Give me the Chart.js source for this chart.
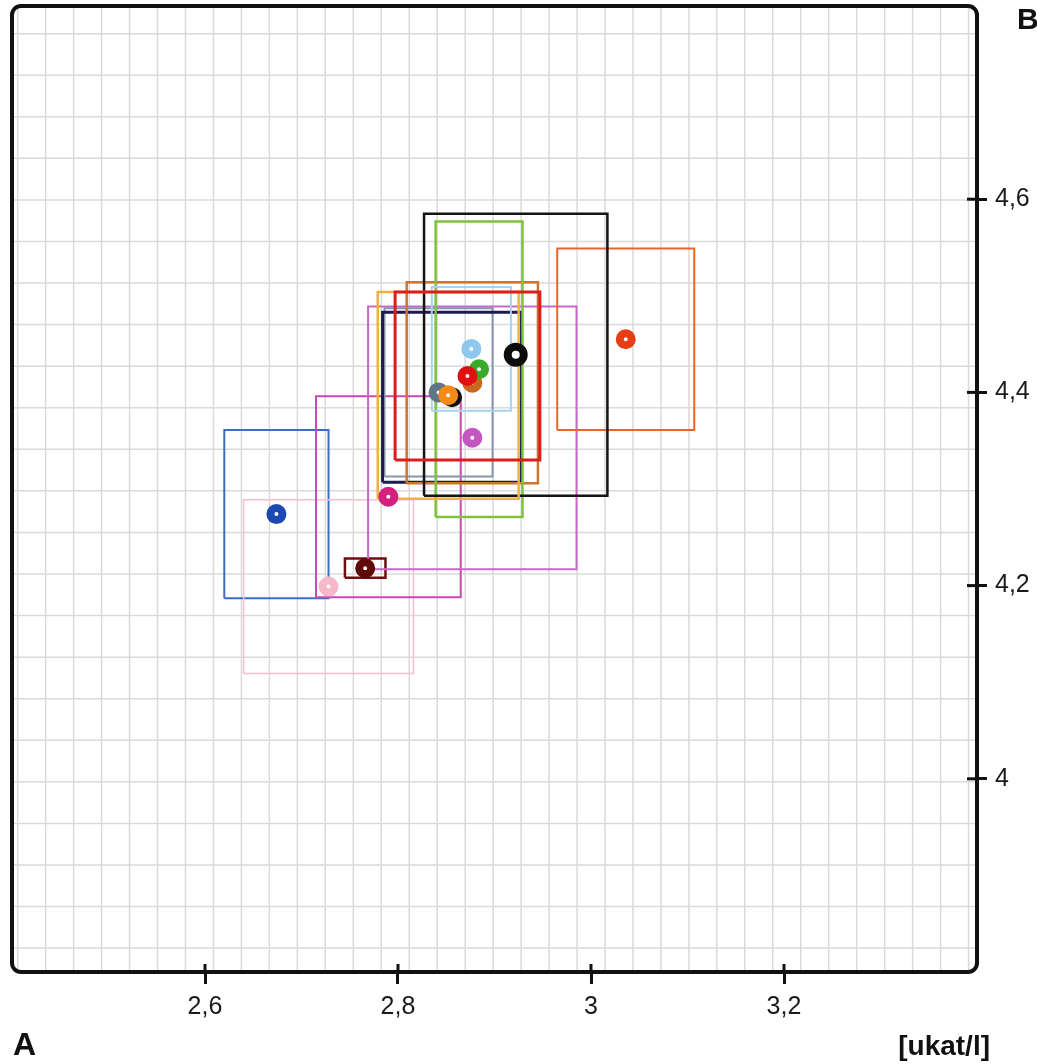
<!DOCTYPE html>
<html>
<head>
<meta charset="utf-8">
<script src="https://cdn.jsdelivr.net/npm/chart.js@4.4.1/dist/chart.umd.min.js"></script>
<style>
  html, body { margin: 0; padding: 0; background: #fff; }
  #wrap { width: 1037px; height: 1064px; position: relative; }
</style>
</head>
<body>
<div id="wrap"><canvas id="chart"></canvas></div>
<script>
// lab results: mean (x in ukat/l, y) and half size of each lab's box
// order = drawing order of the dots, first one on top
const meanX   = [2.872, 2.852, 2.876, 2.922, 2.884, 2.877, 2.856, 2.842, 3.036, 2.877, 2.790, 2.766, 2.728, 2.674];
const meanY   = [4.417, 4.397, 4.445, 4.439, 4.424, 4.410, 4.395, 4.400, 4.455, 4.353, 4.292, 4.218, 4.199, 4.274];
const spreadX = [0.075, 0.073, 0.041, 0.095, 0.045, 0.068, 0.072, 0.056, 0.071, 0.108, 0.075, 0.021, 0.088, 0.054];
const spreadY = [0.087, 0.107, 0.064, 0.146, 0.153, 0.104, 0.088, 0.087, 0.094, 0.136, 0.104, 0.010, 0.090, 0.087];

const xTicks = [2.6, 2.8, 3.0, 3.2];
const xTickLabels = ["2,6", "2,8", "3", "3,2"];
const yTicks = [4.0, 4.2, 4.4, 4.6];
const yTickLabels = ["4", "4,2", "4,4", "4,6"];

/* styles */
const boxColors = ["#dd1c1c", "#f0b23c", "#a6d4f0", "#141414", "#7cc23e", "#d2732c", "#1c1c50",
                   "#8595b2", "#e8662c", "#c868c8", "#c848b4", "#6e0e0e", "#f3c0cf", "#3b6cc6"];
const dotColors = ["#e01010", "#f58a18", "#8ec8ee", "#0c0c0c", "#3aaa2a", "#c8661e", "#101010",
                   "#5e7686", "#e83c14", "#c458c0", "#d6207e", "#5e0808", "#f6b8ca", "#1c48b2"];
const boxWidths = [3, 2.5, 2, 2.5, 2.5, 2.5, 3, 2, 2, 2, 2, 2.5, 1.5, 2];
const dotRadius = [6, 6, 6, 8, 6, 6, 6, 6, 6, 6, 6, 6, 6, 6];

// graph paper behind the chart
const paperX0 = 2.4349, paperDX = 0.02898;
const paperY0 = 4.7714, paperDY = 0.04303;

const datasets = [];

meanX.forEach((mx, i) => {
    datasets.push({
        type: "scatter",
        data: [{ x: mx, y: meanY[i] }],
        pointStyle: "circle",
        pointRadius: dotRadius[i],
        pointBorderWidth: 8,
        pointBackgroundColor: "#fff",
        pointBorderColor: dotColors[i],
        order: 0
    });
});

meanX.forEach((mx, i) => {
    const x0 = mx - spreadX[i], x1 = mx + spreadX[i];
    const y0 = meanY[i] - spreadY[i], y1 = meanY[i] + spreadY[i];
    datasets.push({
        type: "scatter",
        showLine: true,
        fill: false,
        data: [{ x: x0, y: y0 }, { x: x1, y: y0 }, { x: x1, y: y1 }, { x: x0, y: y1 }, { x: x0, y: y0 }],
        borderColor: boxColors[i],
        borderWidth: boxWidths[i],
        pointRadius: 0,
        tension: 0,
        order: 1
    });
});

/* graph paper: drawn from the x / y scales before the data */
const paperPlugin = {
    id: "paper",
    beforeDatasetsDraw(chart) {
        const ctx = chart.ctx;
        const a = chart.chartArea;
        const xs = chart.scales.x, ys = chart.scales.y;
        ctx.save();
        ctx.strokeStyle = "#dadada";
        ctx.lineWidth = 1.5;
        let v = paperX0;
        while (v - paperDX >= xs.min) v -= paperDX;
        for (; v <= xs.max; v += paperDX) {
            const px = xs.getPixelForValue(v);
            ctx.beginPath();
            ctx.moveTo(px, a.top);
            ctx.lineTo(px, a.bottom);
            ctx.stroke();
        }
        v = paperY0;
        while (v + paperDY <= ys.max) v += paperDY;
        for (; v >= ys.min; v -= paperDY) {
            const py = ys.getPixelForValue(v);
            ctx.beginPath();
            ctx.moveTo(a.left, py);
            ctx.lineTo(a.right, py);
            ctx.stroke();
        }
        ctx.restore();
    }
};

/* border, inward tick marks and letters */
const framePlugin = {
    id: "frame",
    afterDraw(chart) {
        const ctx = chart.ctx;
        const a = chart.chartArea;
        ctx.save();
        ctx.strokeStyle = "#111";
        ctx.lineWidth = 4;
        ctx.beginPath();
        ctx.roundRect(a.left, a.top, a.right - a.left, a.bottom - a.top, 9);
        ctx.stroke();

        ctx.lineWidth = 3;
        const xs = chart.scales.x, ys = chart.scales.y;
        xTicks.forEach(v => {
            const px = xs.getPixelForValue(v);
            ctx.beginPath();
            ctx.moveTo(px, a.bottom - 8);
            ctx.lineTo(px, a.bottom);
            ctx.stroke();
        });
        yTicks.forEach(v => {
            const py = ys.getPixelForValue(v);
            ctx.beginPath();
            ctx.moveTo(a.right - 10, py);
            ctx.lineTo(a.right, py);
            ctx.stroke();
        });

        ctx.fillStyle = "#111";
        ctx.textBaseline = "alphabetic";
        ctx.font = "bold 32px 'Liberation Sans', Arial, sans-serif";
        ctx.textAlign = "left";
        ctx.fillText("A", 13, 1055);
        ctx.font = "bold 30px 'Liberation Sans', Arial, sans-serif";
        ctx.fillText("B", 1017, 29);
        ctx.font = "bold 28px 'Liberation Sans Narrow', 'Liberation Sans', Arial, sans-serif";
        ctx.textAlign = "right";
        ctx.fillText("[ukat/l]", 990, 1055);
        ctx.restore();
    }
};

const tickFont = { family: "'Liberation Sans', Arial, sans-serif", size: 25 };

new Chart(document.getElementById("chart"), {
    type: "scatter",
    data: { datasets },
    options: {
        responsive: true,
        maintainAspectRatio: false,
        animation: false,
        events: [],
        layout: { autoPadding: false, padding: { left: 12, top: 6, right: 0, bottom: 0 } },
        plugins: { legend: { display: false }, tooltip: { enabled: false } },
        scales: {
            x: {
                type: "linear", position: "bottom", min: 2.4, max: 3.4,
                afterBuildTicks: s => { s.ticks = xTicks.map(v => ({ value: v })); },
                afterFit: s => { s.height = 92; s.paddingLeft = 0; s.paddingRight = 0; },
                ticks: {
                    callback: v => xTickLabels[xTicks.indexOf(v)],
                    color: "#1a1a1a", font: tickFont, padding: 8,
                    maxRotation: 0, autoSkip: false
                },
                grid: { drawOnChartArea: false, drawTicks: true, tickLength: 12, tickWidth: 3, tickColor: "#111" },
                border: { display: false }
            },
            y: {
                type: "linear", position: "right", min: 3.8, max: 4.8,
                afterBuildTicks: s => { s.ticks = yTicks.map(v => ({ value: v })); },
                afterFit: s => { s.width = 60; s.paddingTop = 0; s.paddingBottom = 0; },
                ticks: {
                    callback: v => yTickLabels[yTicks.indexOf(v)],
                    color: "#1a1a1a", font: tickFont, padding: 8, autoSkip: false
                },
                grid: { drawOnChartArea: false, drawTicks: true, tickLength: 10, tickWidth: 3, tickColor: "#111" },
                border: { display: false }
            }
        }
    },
    plugins: [paperPlugin, framePlugin]
});
</script>
</body>
</html>
